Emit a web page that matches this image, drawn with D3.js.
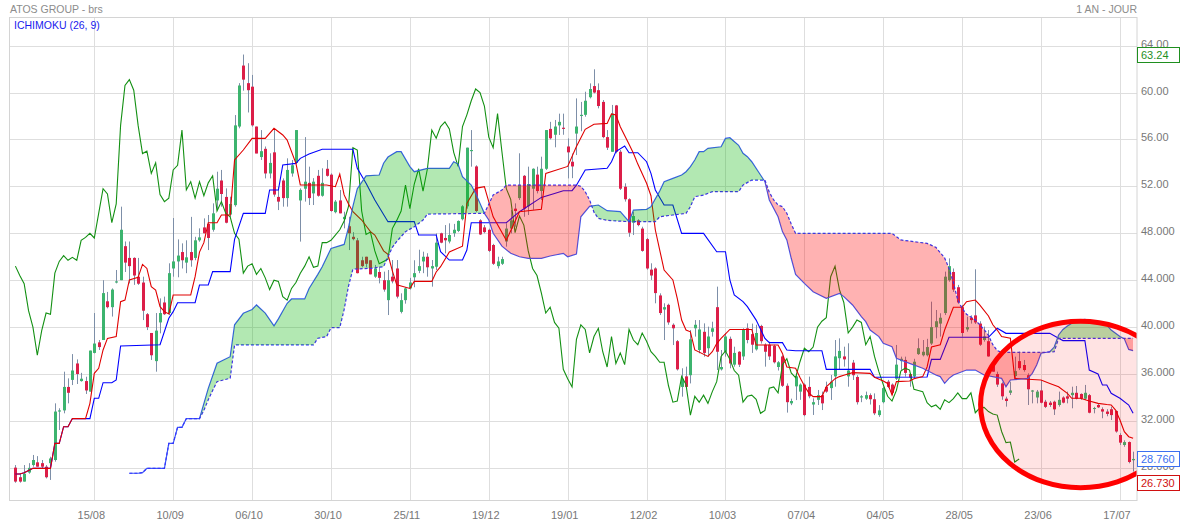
<!DOCTYPE html>
<html>
<head>
<meta charset="utf-8">
<script src="https://cdnjs.cloudflare.com/ajax/libs/d3/7.8.5/d3.min.js"></script>
<style>
    body { margin: 0; background: #fff; }
    svg { display: block; font-family: "Liberation Sans", Arial, sans-serif; }
</style>
</head>
<body>
<svg id="chart" width="1182" height="526"></svg>
<script>
// Daily candles, one year
const opens = [28.02,27.2,26.83,27.6,28.24,28.47,28.4,28.1,28.4,28.67,32.8,32.9,34.9,35.5,36.9,35.4,35.4,34.5,37.8,38.7,
    38.9,42.2,41.7,43.8,44.0,46.9,45.9,45.9,44.3,43.8,41.1,39.5,37.1,40.4,42.1,41.2,45.0,45.6,46.4,45.5,
    46.4,45.9,47.4,48.5,48.8,48.3,50.8,52.5,51.1,49.6,50.4,57.1,62.3,60.8,60.5,57.1,54.5,55.2,53.1,54.9,
    51.1,52.5,51.0,53.1,54.0,50.8,51.8,52.3,51.4,52.9,51.2,53.5,53.0,49.8,50.8,49.2,48.6,47.7,47.4,45.7,
    46.0,45.7,44.3,44.7,44.0,42.3,44.3,45.0,41.3,42.3,43.3,44.25,44.8,45.6,46.0,45.0,45.15,48.0,47.6,47.3,
    48.0,48.2,49.2,50.3,55.0,53.7,49.1,48.5,48.3,47.0,45.2,45.4,47.3,48.4,50.1,51.0,52.9,50.3,51.8,53.0,
    51.6,53.5,56.9,56.4,57.2,57.0,55.4,54.1,56.5,58.0,58.1,59.6,60.55,60.2,59.2,56.2,54.95,58.9,54.95,51.97,
    50.9,48.9,49.1,48.4,47.5,44.9,45.0,42.7,41.5,41.9,40.2,38.8,34.9,35.8,35.9,39.9,38.05,39.6,38.2,39.6,
    41.7,36.4,37.9,39.0,36.8,37.9,37.5,39.9,39.4,38.1,40.1,38.5,38.5,38.4,36.6,37.5,35.0,33.5,34.95,34.5,
    35.1,34.9,33.4,33.8,34.2,34.9,34.8,35.8,37.35,37.5,35.8,36.97,35.75,34.0,33.9,34.2,33.85,32.5,33.6,35.35,
    35.1,35.6,37.1,37.2,36.0,35.8,37.7,37.6,37.6,38.6,40.0,40.3,41.2,44.0,44.7,43.4,41.7,39.8,40.8,41.0,
    40.3,38.9,38.8,37.0,36.0,35.2,33.9,34.4,35.83,37.1,36.77,35.9,34.5,34.0,34.6,33.64,33.56,33.64,33.36,34.0,
    34.1,34.2,34.4,34.3,33.9,34.2,33.05,33.36,33.0,32.8,33.0,32.85,30.8,29.95,30.2,28.65];
const highs = [28.24,27.5,28.24,28.4,29.1,29.0,28.67,28.24,28.95,33.5,33.08,36.2,35.63,37.7,37.25,36.1,35.77,38.0,41.2,38.9,
    44.0,43.0,43.3,44.87,50.27,47.3,47.3,45.95,45.9,44.3,41.2,39.5,41.2,42.45,42.6,45.44,49.3,47.48,47.14,47.4,
    49.4,47.7,48.42,49.27,49.56,50.55,53.25,53.4,51.83,51.12,58.08,60.8,63.24,62.5,61.5,57.1,56.8,55.4,54.82,56.8,
    51.97,52.68,54.39,54.25,56.8,51.83,56.2,53.68,52.7,53.4,53.54,54.25,53.11,50.84,51.69,49.84,49.41,48.1,47.6,46.0,
    46.0,45.7,45.3,45.15,44.73,44.87,45.72,45.72,42.88,43.4,44.2,45.7,46.6,46.43,46.3,45.72,47.99,48.05,48.7,48.85,
    48.8,49.1,50.4,55.3,56.8,53.8,49.2,48.7,48.4,47.1,46.0,46.0,48.85,49.98,50.55,54.82,52.97,53.68,53.54,53.68,
    54.53,56.8,57.5,57.66,58.2,58.2,56.09,54.8,59.5,59.2,60.07,60.78,61.98,60.78,59.36,56.8,58.94,58.94,55.1,52.26,
    50.98,49.84,49.2,48.56,47.6,45.44,45.1,42.88,42.03,42.0,40.32,38.9,36.49,36.63,39.75,40.6,40.6,40.32,40.04,40.46,
    43.45,38.05,39.47,39.19,38.33,37.95,39.9,40.32,40.3,40.2,40.2,38.62,38.76,38.5,37.1,37.6,35.2,33.9,36.06,35.2,
    35.2,35.78,33.93,34.64,34.5,35.35,35.92,38.9,39.04,38.33,38.62,37.2,35.9,34.2,34.5,34.35,34.35,33.35,34.92,35.5,
    35.2,38.48,37.48,37.48,36.06,37.3,39.04,38.9,39.0,42.17,41.46,41.18,44.73,45.86,45.0,43.6,41.89,40.89,41.0,44.93,
    40.5,40.04,39.75,37.2,36.2,35.3,34.07,35.35,37.48,37.91,37.2,36.06,34.64,34.64,35.49,33.8,33.7,33.73,34.5,34.1,
    34.5,34.92,34.98,34.35,35.07,34.3,33.2,33.5,33.16,33.0,33.22,32.9,30.95,30.35,30.25,29.38];
const lows = [26.73,26.74,26.83,27.5,28.1,28.1,27.96,27.1,26.97,28.53,31.23,32.65,33.5,35.06,35.15,35.35,34.3,34.5,37.76,38.05,
    38.9,41.6,40.9,43.73,44.0,44.7,43.73,43.6,43.6,40.6,39.75,37.2,36.2,39.47,41.03,41.03,44.3,44.25,45.0,44.6,
    45.15,45.7,47.28,48.0,46.57,48.14,50.0,50.27,48.85,49.4,50.27,56.95,60.16,58.3,57.09,54.82,54.25,52.68,52.68,51.12,
    49.98,50.27,50.27,52.83,53.96,47.29,50.7,50.41,50.41,51.12,51.12,52.83,49.84,49.7,49.7,48.42,46.57,47.4,44.58,45.1,
    45.1,44.5,44.2,43.73,43.02,41.03,43.73,42.45,41.17,42.0,43.2,43.4,44.6,44.6,44.3,43.45,44.87,47.15,46.29,47.14,
    47.7,48.1,49.1,50.1,53.68,49.8,47.85,48.0,46.4,45.3,45.0,45.3,46.86,47.99,48.56,50.84,49.41,49.56,50.0,51.4,
    50.84,53.4,56.0,55.33,56.38,56.4,52.68,52.7,54.67,56.7,57.94,59.5,59.93,58.65,56.1,55.1,54.95,54.82,51.69,50.7,
    47.7,47.85,48.6,46.43,44.9,44.02,42.03,41.03,38.9,40.2,38.47,36.3,34.07,34.9,35.2,39.19,37.77,37.48,37.48,39.19,
    36.34,36.3,37.48,36.49,36.63,36.6,37.2,38.62,37.8,38.0,38.6,36.63,37.2,36.9,36.3,34.9,32.71,33.35,33.78,33.8,
    32.4,33.93,32.51,33.36,32.93,34.4,33.79,34.92,36.35,36.63,34.92,35.49,33.4,33.6,33.8,33.4,32.5,32.35,33.5,34.8,
    34.2,35.49,36.35,35.78,34.92,35.6,37.63,37.5,37.5,38.48,39.04,39.19,41.03,43.87,43.0,42.0,39.19,39.61,40.3,40.27,
    38.4,38.76,37.48,36.2,34.9,33.8,33.22,34.21,35.63,36.34,36.2,33.36,33.5,33.5,33.5,33.1,33.2,32.51,33.22,33.5,
    33.5,33.08,33.84,33.8,33.79,32.65,32.65,33.1,32.23,32.4,32.08,31.0,29.95,29.8,28.39,27.68];
const closes = [26.83,26.83,27.5,28.0,28.67,28.1,28.1,27.2,28.8,32.8,32.9,34.9,34.4,36.3,36.0,35.6,34.6,38.0,38.6,38.3,
    42.9,41.7,43.2,43.9,48.3,45.5,45.2,44.4,43.7,41.4,40.0,37.6,39.7,41.2,41.1,44.6,45.6,46.1,45.7,45.95,
    45.7,47.4,47.65,48.0,47.6,49.7,51.8,51.35,48.9,50.5,57.2,60.6,61.1,60.2,57.2,54.8,55.0,53.1,54.0,51.3,
    50.7,51.0,53.4,53.8,56.8,51.7,52.4,51.0,52.4,51.2,52.3,52.9,49.9,50.7,49.7,49.4,48.0,47.5,44.6,45.2,
    45.4,44.5,45.0,44.2,43.2,44.0,43.9,42.6,42.3,43.3,43.8,44.6,45.2,46.0,45.1,45.2,47.2,47.2,47.4,47.85,
    48.3,49.05,50.3,55.3,55.1,49.9,47.9,48.1,46.5,45.4,45.6,45.8,48.4,49.1,49.9,52.1,50.1,52.2,53.5,51.6,
    53.5,56.8,56.1,57.1,57.5,56.9,54.9,53.7,57.1,58.1,59.3,60.3,60.0,58.85,56.2,55.3,58.2,54.95,51.8,50.9,
    48.05,49.47,48.7,46.5,45.0,44.4,42.9,41.2,41.7,40.4,39.9,36.4,35.6,34.9,38.96,40.2,39.8,37.8,39.2,39.9,
    37.9,36.6,39.2,36.9,37.8,36.8,39.8,38.9,38.5,39.5,38.8,37.9,37.5,37.0,37.0,35.0,33.6,33.7,35.8,35.1,
    32.5,34.1,33.6,34.2,33.5,34.5,35.35,37.5,37.97,37.25,36.3,35.9,33.6,34.1,34.2,33.85,32.65,32.9,34.8,34.9,
    34.4,36.8,37.3,36.1,35.7,37.05,38.2,37.9,38.3,40.0,40.5,40.8,44.3,45.2,43.2,42.1,39.5,40.0,40.6,40.4,
    38.5,39.2,37.5,36.2,35.1,34.1,33.7,34.6,36.25,36.5,36.34,34.7,34.6,34.5,33.55,33.2,33.36,32.99,33.8,33.56,
    33.9,34.4,33.9,33.9,34.4,32.7,33.1,33.16,32.8,32.6,32.5,31.1,30.15,30.2,28.5,28.76];

// Ichimoku lines as [candle index, value]
const tenkan = [[0,27.48],[1,27.48],[2,27.59],[4,27.96],[8,27.96],[9,30.09],[10,30.09],[11,31.51],[12,31.51],[13,32.2],
    [16,32.2],[17,33.5],[18,36.06],[19,36.49],[20,38.05],[21,39.04],[23,39.19],[24,42.17],[25,42.31],[26,44.02],
    [28,44.24],[29,45.35],[30,45.0],[31,43.45],[32,43.16],[33,41.74],[34,41.32],[35,41.12],[36,42.74],[40,42.74],
    [41,44.3],[42,46.4],[43,47.2],[44,48.9],[46,48.9],[47,49.56],[49,49.56],[50,54.25],[52,55.1],[54,56.09],
    [57,56.09],[59,56.95],[61,56.38],[62,55.95],[64,53.96],[65,52.12],[71,52.12],[73,51.97],[74,53.05],[75,51.27],
    [76,50.5],[77,49.84],[79,49.13],[81,48.14],[82,47.85],[84,46.5],[85,46.2],[86,44.8],[87,43.6],[90,43.3],
    [91,43.9],[95,43.9],[96,44.7],[97,45.15],[99,46.4],[102,46.9],[103,50.55],[105,51.83],[107,51.97],[109,49.4],
    [112,47.4],[115,49.84],[120,50.04],[121,53.1],[126,53.7],[128,55.4],[130,56.86],[132,57.3],[135,57.37],[136,58.17],
    [137,58.08],[138,57.09],[140,55.6],[141,54.82],[142,53.9],[144,52.26],[145,51.2],[146,48.28],[147,46.57],[148,44.87],
    [150,44.02],[151,42.45],[152,40.6],[153,39.75],[154,39.6],[155,38.05],[158,37.5],[159,37.9],[160,38.6],[161,39.04],
    [163,39.8],[168,39.8],[169,38.47],[174,38.47],[175,37.76],[176,36.6],[178,36.5],[179,35.7],[180,35.0],[181,34.4],
    [182,34.07],[184,34.07],[185,34.9],[187,35.6],[188,35.78],[189,35.9],[191,36.12],[195,36.06],[196,35.72],[198,35.4],
    [199,35.2],[200,34.2],[201,35.35],[204,35.4],[205,35.6],[207,35.78],[208,36.6],[209,38.3],[211,38.5],[212,39.75],
    [214,41.69],[216,41.69],[217,42.17],[219,42.31],[220,41.9],[222,40.95],[223,40.2],[224,39.75],[225,39.2],[227,39.05],
    [228,35.63],[231,35.55],[234,35.49],[236,35.2],[238,34.92],[240,34.35],[241,33.93],[243,33.93],[245,33.7],[247,33.5],
    [249,33.4],[250,33.36],[251,32.93],[252,32.08],[253,31.09],[254,30.66],[255,30.52]];
const kijun = [[0,27.48],[1,27.48],[2,27.59],[4,27.96],[8,27.96],[9,30.09],[10,30.09],[11,31.51],[12,31.51],[13,32.2],
    [17,32.2],[18,33.93],[19,33.93],[20,35.26],[22,35.26],[23,35.49],[24,38.39],[33,38.5],[35,40.75],[36,41.32],
    [37,42.08],[41,42.08],[42,43.59],[44,43.59],[45,44.73],[49,44.73],[50,47.48],[52,49.7],[57,49.7],[58,51.69],
    [60,51.69],[61,53.82],[64,53.96],[65,54.39],[67,54.76],[70,55.16],[77,55.16],[78,53.54],[80,52.26],[82,50.84],
    [85,48.99],[91,48.99],[92,47.85],[96,47.85],[97,46.43],[99,45.72],[102,45.72],[103,46.57],[104,48.9],[112,48.9],
    [115,49.84],[120,51.06],[123,51.4],[125,51.63],[127,51.63],[128,52.1],[130,53.39],[135,53.54],[136,54.1],[137,54.96],
    [139,55.44],[140,54.87],[142,54.87],[144,54.1],[145,53.11],[146,51.69],[148,50.41],[150,50.41],[152,47.99],[157,47.99],
    [160,46.43],[162,46.43],[163,44.02],[164,42.74],[166,42.17],[167,41.74],[168,41.17],[169,40.6],[171,39.04],[172,38.68],
    [175,38.68],[176,38.05],[178,37.99],[184,37.99],[185,36.4],[195,36.4],[196,35.72],[208,35.75],[209,37.25],[211,37.25],
    [213,39.13],[222,39.13],[224,39.9],[226,39.47],[236,39.47],[238,39.05],[239,38.85],[244,38.85],[245,36.34],[247,36.0],
    [248,35.07],[249,35.07],[250,34.36],[252,33.93],[254,33.36],[255,32.65]];
const senkouA = [[26,27.54],[28,27.54],[29,27.59],[30,27.96],[34,27.96],[35,30.09],[36,30.09],[37,31.46],[38,31.46],[39,32.2],
    [42,32.2],[44,34.78],[46,36.92],[49,37.48],[50,40.2],[52,41.18],[54,41.5],[55,41.89],[57,41.2],[59,40.1],
    [60,40.7],[62,42.03],[63,42.4],[66,42.4],[67,43.3],[69,44.5],[70,45.15],[72,46.7],[75,47.05],[76,48.5],
    [77,50.3],[78,51.8],[80,52.9],[83,52.97],[84,53.97],[85,54.5],[87,54.96],[88,54.96],[90,53.68],[91,53.25],
    [94,53.54],[99,53.54],[100,54.1],[101,53.9],[102,52.83],[104,52.11],[105,51.4],[106,50.55],[107,49.7],[108,49.13],
    [109,48.0],[111,46.9],[113,46.3],[115,46.0],[117,45.86],[120,45.86],[122,46.06],[125,46.29],[126,46.0],[128,46.23],
    [129,49.4],[131,50.3],[133,50.41],[135,49.93],[138,49.84],[140,48.99],[141,49.98],[144,50.04],[145,50.27],[147,51.6],
    [148,52.4],[150,52.68],[152,52.97],[153,53.25],[154,53.68],[155,54.25],[156,54.96],[157,54.96],[158,55.24],[161,55.38],
    [162,56.09],[163,56.15],[165,55.5],[166,54.82],[167,54.53],[168,54.1],[170,52.97],[171,52.4],[172,50.84],[174,49.41],
    [175,48.14],[176,47.43],[177,45.87],[178,44.5],[180,43.73],[182,43.02],[185,42.45],[188,42.88],[189,42.6],[191,41.89],
    [193,40.89],[194,40.47],[195,39.75],[197,39.19],[198,38.62],[200,38.33],[201,37.34],[204,36.91],[207,36.49],[210,35.92],
    [211,35.78],[212,35.21],[213,35.63],[214,35.92],[217,36.34],[219,36.34],[221,35.92],[225,35.63],[226,34.92],[227,35.49],
    [231,35.63],[232,36.06],[233,36.77],[234,37.77],[236,37.9],[237,38.3],[238,39.33],[239,39.8],[240,40.1],[242,40.55],
    [244,40.66],[247,40.46],[249,40.18],[250,39.75],[252,39.2],[253,39.0],[254,38.1],[255,37.99]];
const senkouB = [[26,27.54],[28,27.54],[29,27.59],[30,27.96],[34,27.96],[35,30.09],[36,30.09],[37,31.46],[38,31.46],[39,32.2],
    [42,32.2],[43,32.9],[44,33.8],[45,34.6],[46,35.35],[49,35.64],[50,38.48],[68,38.48],[69,39.05],[71,39.19],
    [72,39.95],[74,39.95],[75,41.5],[76,43.5],[77,44.95],[81,45.01],[84,45.15],[85,46.0],[86,46.8],[87,47.3],
    [89,48.14],[91,48.56],[93,49.13],[94,49.64],[107,49.7],[109,51.26],[111,51.69],[112,52.11],[128,52.11],[129,52.0],
    [130,51.55],[131,50.84],[132,49.8],[133,49.27],[135,49.1],[140,48.99],[146,48.99],[147,49.41],[150,49.56],[153,49.7],
    [154,50.27],[155,51.12],[157,51.26],[159,51.55],[165,51.55],[166,52.11],[168,52.54],[171,52.54],[172,51.5],[173,50.84],
    [174,50.41],[175,50.27],[176,49.7],[177,48.8],[178,47.99],[200,47.99],[202,47.43],[208,47.14],[210,46.8],[212,45.9],
    [213,45.0],[214,43.8],[215,42.3],[216,41.6],[217,41.1],[219,40.6],[221,39.8],[222,39.3],[223,38.5],[224,38.0],
    [225,37.85],[235,37.85],[237,37.91],[238,39.04],[255,39.04]];
const chikouShift = 26;

// Axis ticks
const tickIndex = [18, 36, 54, 72, 90, 108, 126, 144, 162, 180, 198, 216, 234, 252];
const tickLabels = ['15/08', '10/09', '06/10', '30/10', '25/11', '19/12', '19/01', '12/02', '10/03', '07/04', '04/05', '28/05', '23/06', '17/07'];
const yTicks = [28, 32, 36, 40, 44, 48, 52, 56, 60, 64];

// Highlight drawn on the chart (centre in candle index / price, half sizes)
const highlight = { i: 243, price: 33.4, di: 22.8, dp: 7.1 };

// Layout
const plot = { left: 9.5, right: 1137, top: 17, bottom: 500 };
const svg = d3.select('#chart');

const x = d3.scaleLinear().domain([0, closes.length - 1]).range([15.4, 1133.1]);
const y = d3.scaleLinear().domain([25.26, 66.44]).range([plot.bottom, plot.top]);

const defs = svg.append('defs');
defs.append('clipPath').attr('id', 'plot-clip')
    .append('rect')
    .attr('x', plot.left).attr('y', plot.top)
    .attr('width', plot.right - plot.left).attr('height', plot.bottom - plot.top);

// Cloud colour split: above span B is green, below span B is red
const bArea = d3.area().x(d => x(d[0]));
defs.append('clipPath').attr('id', 'above-b')
    .append('path')
    .attr('d', bArea.y0(plot.top).y1(d => y(d[1]))(senkouB));
defs.append('clipPath').attr('id', 'below-b')
    .append('path')
    .attr('d', d3.area().x(d => x(d[0])).y0(d => y(d[1])).y1(plot.bottom)(senkouB));

// Grid
const grid = svg.append('g');
grid.selectAll('line.h').data(yTicks).join('line')
    .attr('x1', plot.left).attr('x2', plot.right)
    .attr('y1', d => Math.round(y(d)) + 0.5).attr('y2', d => Math.round(y(d)) + 0.5)
    .attr('stroke', '#dedede');
grid.selectAll('line.v').data(tickIndex).join('line')
    .attr('x1', d => Math.round(x(d)) + 0.5).attr('x2', d => Math.round(x(d)) + 0.5)
    .attr('y1', plot.top).attr('y2', plot.bottom)
    .attr('stroke', '#dedede');

const body = svg.append('g').attr('clip-path', 'url(#plot-clip)');

// Candles
const candles = closes.map((c, i) => ({ i, o: opens[i], h: highs[i], l: lows[i], c }));
body.append('g').selectAll('line').data(candles).join('line')
    .attr('x1', d => Math.round(x(d.i)) + 0.5).attr('x2', d => Math.round(x(d.i)) + 0.5)
    .attr('y1', d => y(d.h)).attr('y2', d => y(d.l))
    .attr('stroke', '#7d8fa8').attr('stroke-width', 1);
body.append('g').selectAll('rect').data(candles).join('rect')
    .attr('x', d => Math.round(x(d.i)) - 1)
    .attr('width', 3)
    .attr('y', d => y(Math.max(d.o, d.c)))
    .attr('height', d => Math.max(1, Math.abs(y(d.o) - y(d.c))))
    .attr('fill', d => d.c >= d.o ? '#3cb46e' : '#dc1e48');

// Lines
const line = d3.line().x(d => x(d[0])).y(d => y(d[1]));
const chikou = closes.map((c, i) => [i - chikouShift, c]).filter(d => d[0] >= 0);

body.append('path').attr('d', line(chikou)).attr('fill', 'none').attr('stroke', '#139013').attr('stroke-width', 1.1);
body.append('path').attr('d', line(kijun)).attr('fill', 'none').attr('stroke', '#0000ff').attr('stroke-width', 1.1);
body.append('path').attr('d', line(tenkan)).attr('fill', 'none').attr('stroke', '#e00000').attr('stroke-width', 1.1);
body.append('path').attr('d', line(senkouA)).attr('fill', 'none').attr('stroke', '#3d5cf5').attr('stroke-width', 1.2);
body.append('path').attr('d', line(senkouB)).attr('fill', 'none').attr('stroke', '#3333ff')
    .attr('stroke-width', 1.2).attr('stroke-dasharray', '3,2');

// Cloud between the spans
const cloud = line(senkouA.concat(senkouB.slice().reverse())) + 'Z';
body.append('g').attr('clip-path', 'url(#above-b)')
    .append('path').attr('d', cloud).attr('fill', 'rgba(0,180,0,0.3)');
body.append('g').attr('clip-path', 'url(#below-b)')
    .append('path').attr('d', cloud).attr('fill', 'rgba(255,0,0,0.3)');

// Highlight ellipse
body.append('ellipse')
    .attr('cx', x(highlight.i)).attr('cy', y(highlight.price))
    .attr('rx', x(highlight.di) - x(0)).attr('ry', y(0) - y(highlight.dp))
    .attr('fill', 'rgba(255,0,0,0.11)')
    .attr('stroke', '#ff0000').attr('stroke-width', 5);

// Frame
svg.append('rect')
    .attr('x', plot.left).attr('y', plot.top + 0.5)
    .attr('width', plot.right - plot.left).attr('height', plot.bottom - plot.top)
    .attr('fill', 'none').attr('stroke', '#d4d4d4');

// Axis labels
const fmt = v => v >= 50 ? d3.format('.2f')(v) : d3.format('.3f')(v);
svg.append('g').selectAll('text').data(yTicks).join('text')
    .attr('x', plot.right + 4).attr('y', d => y(d) + 2)
    .attr('font-size', 11).attr('fill', '#777')
    .text(fmt);
svg.append('g').selectAll('text').data(tickIndex).join('text')
    .attr('x', d => x(d) - 3).attr('y', 519)
    .attr('text-anchor', 'middle')
    .attr('font-size', 11).attr('fill', '#777')
    .text((d, k) => tickLabels[k]);

// Value boxes: year high, last close, year low
const boxes = [
    { v: d3.max(highs), color: '#1f8f1f', text: d3.format('.2f')(d3.max(highs)) },
    { v: closes[closes.length - 1], color: '#3a6ff0', text: d3.format('.3f')(closes[closes.length - 1]) },
    { v: d3.min(lows), color: '#d01010', text: d3.format('.3f')(d3.min(lows)) }
];
const box = svg.append('g').selectAll('g').data(boxes).join('g');
box.append('rect')
    .attr('x', plot.right + 0.5).attr('y', d => Math.round(y(d.v)) - 7.5)
    .attr('width', 42).attr('height', 15)
    .attr('fill', '#fff').attr('stroke', d => d.color);
box.append('text')
    .attr('x', plot.right + 4).attr('y', d => Math.round(y(d.v)) + 4)
    .attr('font-size', 11).attr('fill', d => d.color)
    .text(d => d.text);

// Titles
svg.append('text').attr('x', 10).attr('y', 13)
    .attr('font-size', 10.5).attr('fill', '#8c8c8c').text('ATOS GROUP - brs');
svg.append('text').attr('x', plot.right).attr('y', 13).attr('text-anchor', 'end')
    .attr('font-size', 10.5).attr('fill', '#8c8c8c').text('1 AN - JOUR');
svg.append('text').attr('x', 14).attr('y', 29)
    .attr('font-size', 10.5).attr('fill', '#1a1aee').text('ICHIMOKU (26, 9)');
</script>
</body>
</html>
